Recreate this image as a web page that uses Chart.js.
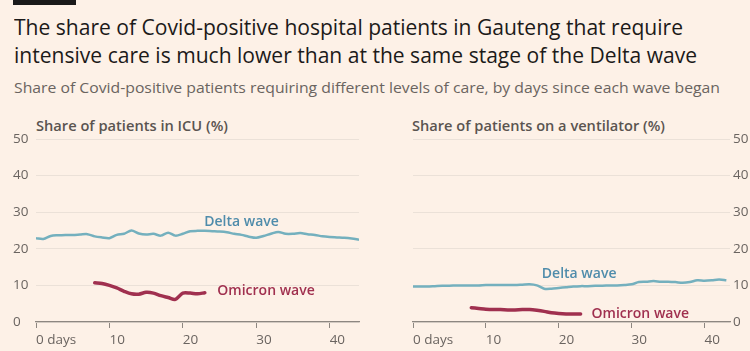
<!DOCTYPE html>
<html>
<head>
<meta charset="utf-8">
<script src="https://cdn.jsdelivr.net/npm/chart.js@4"></script>
<style>
  body { margin: 0; background: #fdf1e7; width: 750px; height: 351px; overflow: hidden; position: relative; font-family: "Open Sans", sans-serif; }
  .txt { position: absolute; white-space: nowrap; transform-origin: 0 0; line-height: 1; }
  #bar { position: absolute; left: 13px; top: 0; width: 63px; height: 5px; background: #1a1a1a; }
  .title { font-size: 22px; color: #1c1a19; }
  .sub { font-size: 15px; color: #6a6460; }
  .panel { font-size: 13.5px; color: #5a5450; font-weight: 600; }
  canvas { position: absolute; }
</style>
</head>
<body>
<div id="bar"></div>
<div class="txt title" data-w="669" style="left:14px;top:15px">The share of Covid-positive hospital patients in Gauteng that require</div>
<div class="txt title" data-w="683" style="left:14px;top:43px">intensive care is much lower than at the same stage of the Delta wave</div>
<div class="txt sub" data-w="706" style="left:14px;top:80px">Share of Covid-positive patients requiring different levels of care, by days since each wave began</div>
<div class="txt panel" data-w="192" style="left:36px;top:120px">Share of patients in ICU (%)</div>
<div class="txt panel" data-w="253" style="left:412px;top:120px">Share of patients on a ventilator (%)</div>
<div style="position:absolute;left:0;top:110px;width:375px;height:241px"><canvas id="icu"></canvas></div>
<div style="position:absolute;left:375px;top:110px;width:375px;height:241px"><canvas id="vent"></canvas></div>
<script>
// days since each wave began
const deltaDaysIcu = [0,1,2,3,4,5,6,7,8,9,10,11,12,13,14,15,16,17,18,19,20,21,22,23,24,25,26,27,28,29,30,31,32,33,34,35,36,37,38,39,40,41,42,43,44];
const icuDelta = [22.9,22.7,23.5,23.7,23.8,23.8,23.9,24.0,23.4,23.1,22.9,23.8,24.1,25.0,24.2,23.9,24.1,23.6,24.4,23.6,24.1,24.8,24.9,24.9,24.8,24.7,24.5,24.1,23.8,23.3,23.0,23.5,24.1,24.6,24.1,24.1,24.3,24.0,23.8,23.4,23.2,23.1,23.0,22.8,22.5];
const omicronDays = [8,9,10,11,12,13,14,15,16,17,18,19,20,21,22,23];
const icuOmicron = [10.7,10.5,10.0,9.3,8.4,7.7,7.6,8.1,7.9,7.2,6.7,6.2,7.9,7.9,7.7,8.0];
const deltaDaysVent = [0,1,2,3,4,5,6,7,8,9,10,11,12,13,14,15,16,17,18,19,20,21,22,23,24,25,26,27,28,29,30,31,32,33,34,35,36,37,38,39,40,41,42,43];
const ventDelta = [9.7,9.7,9.7,9.8,9.9,9.9,10.0,10.0,10.0,10.0,10.1,10.1,10.1,10.1,10.1,10.2,10.3,10.0,9.1,9.1,9.3,9.5,9.7,9.8,9.8,9.9,9.9,10.0,10.0,10.1,10.3,10.9,11.0,11.2,11.0,11.0,10.9,10.7,10.9,11.4,11.3,11.4,11.6,11.4];
const ventOmicron = [3.9,3.7,3.5,3.4,3.4,3.3,3.3,3.4,3.4,3.2,2.9,2.5,2.3,2.2,2.2,2.2];
const xTicks = [0,10,20,30,40];
const yTicks = [0,10,20,30,40,50];

// fit headline widths
document.querySelectorAll('.txt[data-w]').forEach(el => {
  const w = el.getBoundingClientRect().width;
  el.style.transform = 'scaleX(' + (parseFloat(el.dataset.w) / w) + ')';
});

const DELTA = '#74b0be', OMI = '#a0304f';
const tickFont = { family: 'Open Sans', size: 13.5 };

// line labels drawn at data coordinates
const lineLabels = {
  id: 'lineLabels',
  afterDatasetsDraw(chart, args, opts) {
    const { ctx, scales: { x, y } } = chart;
    ctx.save();
    ctx.font = '600 14px "Open Sans"';
    ctx.textBaseline = 'middle';
    opts.items.forEach(it => {
      ctx.fillStyle = it.color;
      ctx.textAlign = it.align;
      ctx.fillText(it.text, x.getPixelForValue(it.x), y.getPixelForValue(it.y));
    });
    ctx.restore();
  }
};

function makeChart(id, side, xMax, deltaDays, deltaVals, omiVals, labels, pad) {
  new Chart(document.getElementById(id), {
    type: 'line',
    data: {
      datasets: [
        { data: deltaDays.map((d, i) => ({ x: d, y: deltaVals[i] })), borderColor: DELTA, borderWidth: 2.5, pointRadius: 0, tension: 0.3 },
        { data: omicronDays.map((d, i) => ({ x: d, y: omiVals[i] })), borderColor: OMI, borderWidth: 3.5, pointRadius: 0, tension: 0.3, borderCapStyle: 'round' }
      ]
    },
    options: {
      responsive: true,
      maintainAspectRatio: false,
      animation: false,
      layout: { padding: pad },
      plugins: { legend: { display: false }, tooltip: { enabled: false }, lineLabels: { items: labels } },
      scales: {
        x: {
          type: 'linear', min: 0, max: xMax,
          afterBuildTicks: s => { s.ticks = xTicks.map(v => ({ value: v })); },
          afterFit: s => { s.height = 29; },
          grid: { drawOnChartArea: false, color: '#8d8781', tickLength: 6 },
          border: { color: '#8d8781', width: 1.2 },
          ticks: { font: tickFont, color: '#6a6460', padding: 4, align: 'start', maxRotation: 0,
                   callback: v => v === 0 ? '0 days' : String(v) }
        },
        y: {
          position: side, min: 0, max: 50,
          afterBuildTicks: s => { s.ticks = yTicks.map(v => ({ value: v })); },
          afterFit: s => { s.width = side === 'left' ? 23 : 20; },
          grid: { color: '#ebe1d8', drawTicks: false },
          border: { display: false },
          ticks: { font: tickFont, color: '#6a6460', padding: 3, crossAlign: side === 'left' ? 'far' : 'near' }
        }
      }
    },
    plugins: [lineLabels]
  });
}

makeChart('icu', 'left', 44, deltaDaysIcu, icuDelta, icuOmicron, [
  { text: 'Delta wave', x: 28, y: 27.4, color: '#4f8cab', align: 'center' },
  { text: 'Omicron wave', x: 24.7, y: 8.4, color: '#a0304f', align: 'left' }
], { top: 29, left: 13, right: 16, bottom: 0 });

makeChart('vent', 'right', 43.5, deltaDaysVent, ventDelta, ventOmicron, [
  { text: 'Delta wave', x: 22.8, y: 13, color: '#4f8cab', align: 'center' },
  { text: 'Omicron wave', x: 24.5, y: 2.3, color: '#a0304f', align: 'left' }
], { top: 29, left: 38, right: 0, bottom: 0 });
</script>
</body>
</html>
